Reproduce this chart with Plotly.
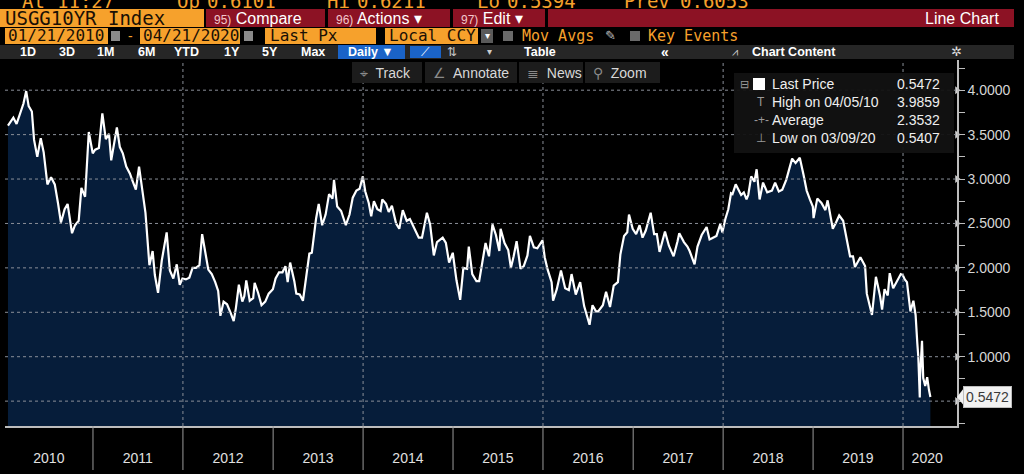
import plotly.graph_objects as go

# -----------------------------
# Data: USGG10YR Index, 01/21/2010 - 04/21/2020
# -----------------------------
dates = [
    "2010-01-21", "2010-02-01", "2010-02-12", "2010-02-25", "2010-03-10", "2010-03-25", "2010-04-05",
    "2010-04-15", "2010-04-28", "2010-05-07", "2010-05-20", "2010-06-03", "2010-06-15", "2010-06-30",
    "2010-07-15", "2010-07-30", "2010-08-12", "2010-08-24", "2010-09-08", "2010-09-20", "2010-10-08",
    "2010-10-20", "2010-11-04", "2010-11-15", "2010-11-30", "2010-12-15", "2010-12-31",
    "2011-01-10", "2011-01-25", "2011-02-08", "2011-02-22", "2011-03-07", "2011-03-16", "2011-03-31",
    "2011-04-08", "2011-04-20", "2011-05-02", "2011-05-16", "2011-05-31", "2011-06-09", "2011-06-24",
    "2011-07-07", "2011-07-18", "2011-08-02", "2011-08-18", "2011-08-31", "2011-09-09", "2011-09-22",
    "2011-10-07", "2011-10-27", "2011-11-09", "2011-11-23", "2011-12-07", "2011-12-19", "2011-12-30",
    "2012-01-13", "2012-01-27", "2012-02-09", "2012-02-23", "2012-03-08", "2012-03-19", "2012-03-30",
    "2012-04-13", "2012-04-27", "2012-05-11", "2012-05-23", "2012-06-01", "2012-06-14", "2012-06-28",
    "2012-07-13", "2012-07-25", "2012-08-03", "2012-08-15", "2012-08-29", "2012-09-06", "2012-09-14",
    "2012-09-28", "2012-10-12", "2012-10-18", "2012-11-01", "2012-11-15", "2012-11-30", "2012-12-14",
    "2012-12-31",
    "2013-01-11", "2013-01-25", "2013-02-08", "2013-02-20", "2013-03-01", "2013-03-11", "2013-03-28",
    "2013-04-05", "2013-04-19", "2013-05-02", "2013-05-17", "2013-05-28", "2013-06-07", "2013-06-24",
    "2013-07-05", "2013-07-19", "2013-08-02", "2013-08-16", "2013-08-30", "2013-09-05", "2013-09-18",
    "2013-10-04", "2013-10-23", "2013-11-07", "2013-11-20", "2013-12-05", "2013-12-18", "2013-12-31",
    "2014-01-10", "2014-01-24", "2014-02-03", "2014-02-14", "2014-02-28", "2014-03-13", "2014-03-20",
    "2014-04-04", "2014-04-15", "2014-04-28", "2014-05-15", "2014-05-28", "2014-06-11", "2014-06-27",
    "2014-07-10", "2014-07-25", "2014-08-15", "2014-08-28", "2014-09-17", "2014-09-30", "2014-10-15",
    "2014-10-28", "2014-11-07", "2014-11-20", "2014-12-03", "2014-12-16", "2014-12-31",
    "2015-01-15", "2015-01-30", "2015-02-12", "2015-02-27", "2015-03-06", "2015-03-20", "2015-04-06",
    "2015-04-17", "2015-04-30", "2015-05-13", "2015-05-27", "2015-06-10", "2015-06-24", "2015-07-08",
    "2015-07-13", "2015-07-29", "2015-08-13", "2015-08-24", "2015-09-04", "2015-09-16", "2015-10-02",
    "2015-10-15", "2015-10-30", "2015-11-09", "2015-11-25", "2015-12-09", "2015-12-30",
    "2016-01-08", "2016-01-20", "2016-02-05", "2016-02-11", "2016-02-26", "2016-03-14", "2016-03-31",
    "2016-04-15", "2016-04-26", "2016-05-13", "2016-05-31", "2016-06-16", "2016-06-27", "2016-07-08",
    "2016-07-20", "2016-08-03", "2016-08-12", "2016-08-31", "2016-09-13", "2016-09-29", "2016-10-14",
    "2016-10-31", "2016-11-10", "2016-11-25", "2016-12-08", "2016-12-15", "2016-12-30",
    "2017-01-13", "2017-01-27", "2017-02-08", "2017-02-21", "2017-03-13", "2017-03-27", "2017-04-07",
    "2017-04-18", "2017-05-10", "2017-05-26", "2017-06-14", "2017-06-30", "2017-07-07", "2017-07-26",
    "2017-08-09", "2017-08-18", "2017-09-07", "2017-09-19", "2017-10-06", "2017-10-26", "2017-11-07",
    "2017-11-15", "2017-12-05", "2017-12-20", "2017-12-29",
    "2018-01-10", "2018-01-22", "2018-02-02", "2018-02-08", "2018-02-21", "2018-03-05", "2018-03-15",
    "2018-03-26", "2018-04-06", "2018-04-13", "2018-04-25", "2018-05-08", "2018-05-17", "2018-05-29",
    "2018-06-12", "2018-06-29", "2018-07-18", "2018-07-31", "2018-08-15", "2018-08-29", "2018-09-14",
    "2018-09-25", "2018-10-08", "2018-10-22", "2018-11-08", "2018-11-23", "2018-12-06", "2018-12-19",
    "2018-12-31",
    "2019-01-03", "2019-01-18", "2019-02-04", "2019-02-20", "2019-03-01", "2019-03-22", "2019-04-04",
    "2019-04-17", "2019-05-03", "2019-05-13", "2019-05-31", "2019-06-12", "2019-06-20", "2019-07-12",
    "2019-07-31", "2019-08-07", "2019-08-28", "2019-09-13", "2019-09-30", "2019-10-08", "2019-10-18",
    "2019-10-31", "2019-11-08", "2019-11-22", "2019-12-06", "2019-12-23", "2019-12-31",
    "2020-01-08", "2020-01-17", "2020-01-31", "2020-02-12", "2020-02-21", "2020-02-28", "2020-03-03",
    "2020-03-09", "2020-03-10", "2020-03-18", "2020-03-23", "2020-03-31", "2020-04-08", "2020-04-15",
    "2020-04-21",
]
yields = [
    3.60, 3.64, 3.69, 3.62, 3.72, 3.85, 3.99, 3.82, 3.76, 3.44, 3.25, 3.46, 3.30, 2.94,
    3.02, 2.94, 2.73, 2.51, 2.66, 2.72, 2.39, 2.48, 2.53, 2.90, 2.80, 3.53, 3.29,
    3.33, 3.35, 3.74, 3.45, 3.51, 3.21, 3.47, 3.58, 3.36, 3.29, 3.14, 3.06, 2.99, 2.88,
    3.14, 2.90, 2.62, 2.03, 2.19, 1.92, 1.72, 2.08, 2.40, 1.97, 1.88, 2.04, 1.81, 1.88,
    1.87, 1.89, 2.00, 2.00, 2.03, 2.38, 2.21, 1.98, 1.93, 1.84, 1.74, 1.46, 1.62, 1.59,
    1.49, 1.40, 1.55, 1.81, 1.62, 1.68, 1.86, 1.63, 1.66, 1.83, 1.72, 1.58, 1.62, 1.71,
    1.76,
    1.88, 1.95, 1.95, 2.02, 1.84, 2.06, 1.85, 1.71, 1.70, 1.63, 1.95, 2.16, 2.17, 2.55,
    2.72, 2.48, 2.60, 2.83, 2.78, 2.99, 2.69, 2.64, 2.48, 2.60, 2.79, 2.87, 2.89, 3.03,
    2.86, 2.73, 2.58, 2.75, 2.66, 2.64, 2.77, 2.72, 2.63, 2.70, 2.50, 2.44, 2.65, 2.53,
    2.55, 2.47, 2.34, 2.34, 2.62, 2.49, 2.14, 2.29, 2.31, 2.34, 2.28, 2.06, 2.17,
    1.86, 1.64, 2.00, 1.99, 2.24, 1.93, 1.85, 1.85, 2.05, 2.28, 2.13, 2.49, 2.37, 2.19,
    2.44, 2.28, 2.20, 2.00, 2.13, 2.30, 1.99, 2.02, 2.14, 2.36, 2.23, 2.22, 2.31,
    2.12, 1.98, 1.84, 1.63, 1.76, 1.97, 1.77, 1.75, 1.93, 1.70, 1.84, 1.57, 1.46, 1.36,
    1.58, 1.51, 1.51, 1.58, 1.73, 1.56, 1.80, 1.84, 2.15, 2.36, 2.40, 2.60, 2.44,
    2.38, 2.48, 2.34, 2.42, 2.62, 2.38, 2.38, 2.18, 2.41, 2.25, 2.13, 2.30, 2.39, 2.29,
    2.24, 2.19, 2.04, 2.24, 2.37, 2.46, 2.32, 2.33, 2.36, 2.49, 2.40,
    2.55, 2.66, 2.84, 2.83, 2.94, 2.88, 2.82, 2.85, 2.77, 2.82, 3.03, 2.97, 3.11, 2.77,
    2.96, 2.85, 2.87, 2.96, 2.86, 2.88, 2.99, 3.10, 3.23, 3.18, 3.24, 3.05, 2.87, 2.77,
    2.69,
    2.56, 2.78, 2.73, 2.65, 2.76, 2.44, 2.51, 2.59, 2.53, 2.40, 2.13, 2.13, 2.01, 2.12,
    2.02, 1.71, 1.47, 1.90, 1.68, 1.53, 1.76, 1.69, 1.94, 1.77, 1.84, 1.93, 1.92,
    1.87, 1.84, 1.51, 1.63, 1.47, 1.15, 1.00, 0.54, 0.76, 1.18, 0.76, 0.67, 0.77, 0.63,
    0.5472,
]

y_ticks = [0.5, 1.0, 1.5, 2.0, 2.5, 3.0, 3.5, 4.0]
year_labels = ["2010", "2011", "2012", "2013", "2014", "2015", "2016", "2017", "2018", "2019", "2020"]
year_label_pos = ["2010-07-06", "2011-07-02", "2012-07-02", "2013-07-02", "2014-07-02", "2015-07-02",
                  "2016-07-02", "2017-07-02", "2018-07-02", "2019-07-02", "2020-04-08"]
legend_rows = [("High on 04/05/10", "3.9859"), ("Average", "2.3532"), ("Low on 03/09/20", "0.5407")]
last_price = 0.5472

# -----------------------------
# Layout helpers (pixel -> paper)
# -----------------------------
W, H = 1024, 474
L, R, T, B = 5, 67, 60, 48
x_range = ["2010-01-09", "2020-08-07"]


def px(x):
    return (x - L) / (W - L - R)


def py(y):
    return (H - B - y) / (H - T - B)


ORANGE = "#f6a12c"
DARKRED = "#8c1224"
BAR = "#262626"
NAVY = "#061d3a"
FONT = "Liberation Sans, Arial, sans-serif"
MONO = "DejaVu Sans Mono, monospace"

shapes = []
annotations = []


def box(x0, x1, y0, y1, color, layer="above"):
    shapes.append(dict(type="rect", xref="paper", yref="paper", x0=px(x0), x1=px(x1),
                       y0=py(y1), y1=py(y0), fillcolor=color, line_width=0, layer=layer))


def text(x, y, s, size=13, color="#ffffff", font=FONT, anchor="left"):
    annotations.append(dict(xref="paper", yref="paper", x=px(x), y=py(y), text=s, showarrow=False,
                            xanchor=anchor, yanchor="middle",
                            font=dict(size=size, color=color, family=font)))


# -----------------------------
# Chart
# -----------------------------
fig = go.Figure()
fig.add_trace(go.Scatter(
    x=dates, y=yields, mode="lines", fill="tozeroy", fillcolor=NAVY,
    line=dict(color="#ffffff", width=2.2), hoverinfo="skip", showlegend=False,
))
# little arrow markers on the major ticks of the price axis
fig.add_trace(go.Scatter(
    x=[x_range[1]] * len(y_ticks), y=y_ticks, mode="markers", cliponaxis=False,
    marker=dict(symbol="triangle-right", size=7, color="#d0d0d0"),
    hoverinfo="skip", showlegend=False,
))

# grid (drawn over the area, like the terminal)
for v in y_ticks:
    shapes.append(dict(type="line", xref="paper", yref="y", x0=0, x1=1, y0=v, y1=v,
                       line=dict(color="#8a8f98", width=1, dash="dot"), layer="above"))
for yr in [2012, 2014, 2016, 2018, 2020]:
    shapes.append(dict(type="line", xref="x", yref="paper", x0=f"{yr}-01-01", x1=f"{yr}-01-01",
                       y0=0, y1=1, line=dict(color="#8a8f98", width=1, dash="dot"), layer="above"))
# year separators below the axis
for yr in range(2011, 2021):
    shapes.append(dict(type="line", xref="x", yref="paper", x0=f"{yr}-01-01", x1=f"{yr}-01-01",
                       y0=0, y1=py(470), line=dict(color="#9a9a9a", width=1), layer="above"))

# -----------------------------
# Terminal header
# -----------------------------
for x, s in [(20, "At"), (55, "11:27"), (175, "Op"), (205, "0.6101"), (325, "Hi"), (355, "0.6211"),
             (475, "Lo"), (505, "0.5394"), (622, "Prev"), (678, "0.6053")]:
    text(x, 1, s, size=19, color=ORANGE, font=MONO)

box(0, 204, 9, 27, ORANGE)
text(3, 18, "USGG10YR Index", size=19, color="#1a1005", font=MONO)
for x0, x1, num, label in [(206, 325, "95)", "Compare"), (328, 450, "96)", "Actions ▾"),
                           (453, 545, "97)", "Edit ▾")]:
    box(x0, x1, 9, 27, DARKRED)
    text(x0 + 6, 18, f"<span style='font-size:12px;color:#f3c7cc'>{num}</span> {label}", size=16)
box(548, 1014, 9, 27, DARKRED)
text(1001, 18, "Line Chart", size=16, anchor="right")

box(5, 108, 28, 44, ORANGE)
text(6, 36, "01/21/2010", size=16, color="#1a1005", font=MONO)
box(111, 120, 31, 41, "#8a8a8a")
text(126, 36, "-", size=14, color=ORANGE)
box(140, 240, 28, 44, ORANGE)
text(141, 36, "04/21/2020", size=16, color="#1a1005", font=MONO)
box(244, 253, 31, 41, "#8a8a8a")
box(265, 376, 28, 44, ORANGE)
text(268, 36, "Last Px", size=16, color="#1a1005", font=MONO)
box(385, 478, 28, 44, ORANGE)
text(387, 36, "Local CCY", size=16, color="#1a1005", font=MONO)
box(481, 493, 29, 43, "#5a5a5a")
text(487, 36, "▾", size=10, anchor="center")
box(503, 513, 31, 41, "#6a6a6a")
text(520, 36, "Mov Avgs", size=15, color=ORANGE, font=MONO)
text(603, 35, "✎", size=13, color="#bbbbbb")
box(630, 640, 31, 41, "#6a6a6a")
text(646, 36, "Key Events", size=15, color=ORANGE, font=MONO)

box(0, 1014, 45, 59, BAR)
for x, s in [(28, "1D"), (67, "3D"), (105, "1M"), (146, "6M"), (186, "YTD"), (232, "1Y"),
             (270, "5Y"), (313, "Max")]:
    text(x, 52, f"<b>{s}</b>", size=12.5, anchor="center")
box(338, 405, 45, 59, "#1a63c7")
text(371, 52, "<b>Daily ▼</b>", size=12.5, anchor="center")
box(410, 441, 46, 58, "#1a63c7")
text(425, 52, "⟋", size=12, anchor="center")
text(452, 52, "⇅", size=12, color="#cccccc", anchor="center")
text(489, 52, "▾", size=10, color="#cccccc", anchor="center")
text(540, 52, "<b>Table</b>", size=12.5, anchor="center")
text(665, 52, "<b>«</b>", size=14, anchor="center")
text(735, 52, "⩘", size=11, color="#cccccc", anchor="center")
text(750, 52, "<b>Chart Content</b>", size=12.5)
text(956, 52, "✲", size=13, color="#dddddd", anchor="center")

# chart overlay buttons
for x0, x1, icon, s in [(352, 422, "⌖", "Track"), (425, 517, "∠", "Annotate"),
                        (519, 583, "≣", "News"), (585, 660, "⚲", "Zoom")]:
    box(x0, x1, 62, 83, "#1c1c1c")
    text(x0 + 6, 72.5, f"<span style='color:#8a8a8a'>{icon}</span>  {s}", size=14, color="#d8d8d8")

# legend box
box(734, 954, 73, 153, "rgba(18,18,18,0.95)")
text(744, 84, "⊟", size=11, color="#9a9a9a", anchor="center")
box(753, 765, 78, 90, "#ffffff")
text(770, 84, "Last Price", size=14, color="#eeeeee")
text(942, 84, f"{last_price:.4f}", size=14, color="#eeeeee", anchor="right")
for i, (lab, val) in enumerate(legend_rows):
    yy = 102 + 18 * i
    icon = ["T", "-+-", "⊥"][i]
    text(761, yy, icon, size=12, color="#9a9a9a", anchor="center")
    text(770, yy, lab, size=14, color="#eeeeee")
    text(942, yy, val, size=14, color="#eeeeee", anchor="right")

# last price tag on the axis
annotations.append(dict(xref="paper", yref="y", x=px(963), y=last_price, text=f"{last_price:.4f}",
                        showarrow=False, xanchor="left", yanchor="middle", bgcolor="#f2f2f2",
                        bordercolor="#bdbdbd", borderwidth=1, borderpad=2,
                        font=dict(size=14, color="#3a3a3a", family=FONT)))
shapes.append(dict(type="path", xref="paper", yref="y",
                   path=f"M {px(957)} {last_price} L {px(964)} {last_price + 0.1} "
                        f"L {px(964)} {last_price - 0.1} Z",
                   fillcolor="#f2f2f2", line_width=0, layer="above"))

fig.update_layout(
    width=W, height=H,
    margin=dict(l=L, r=R, t=T, b=B),
    paper_bgcolor="#000000", plot_bgcolor="#000000",
    shapes=shapes, annotations=annotations,
    font=dict(family=FONT, color="#dddddd"),
    xaxis=dict(
        type="date", range=x_range, showgrid=False, zeroline=False,
        showline=True, linecolor="#bdbdbd", linewidth=1.5,
        tickmode="array", tickvals=year_label_pos, ticktext=year_labels,
        ticks="outside", ticklen=18, tickcolor="rgba(0,0,0,0)",
        tickfont=dict(size=14, color="#e0e0e0", family="Liberation Sans Narrow, Arial Narrow, sans-serif"),
    ),
    yaxis=dict(
        range=[0.22, 4.34], side="right", showgrid=False, zeroline=False,
        showline=True, linecolor="#bdbdbd", linewidth=1.5,
        tickmode="array", tickvals=y_ticks, ticktext=[f"{v:.4f}" for v in y_ticks],
        ticks="outside", ticklen=6, tickcolor="#bdbdbd",
        tickfont=dict(size=14, color="#d6d6d6", family=FONT),
        minor=dict(ticks="outside", ticklen=6, tickcolor="#bdbdbd", dtick=0.25, tick0=0),
    ),
)

# the page gets no body margin, so the figure sits flush in the window
fig.write_html("out.html", config={"displayModeBar": False},
               post_script="document.body.style.margin='0';document.body.style.background='#000';")
